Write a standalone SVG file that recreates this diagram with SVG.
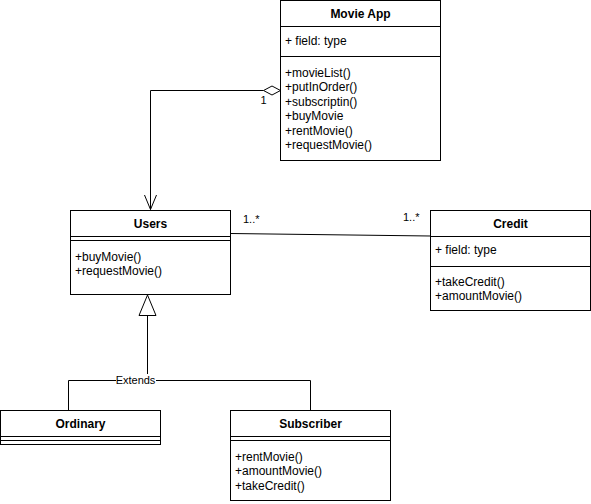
<svg xmlns="http://www.w3.org/2000/svg" width="591" height="504" viewBox="0 0 591 504">
<style>
.box{fill:#fff;stroke:#000;stroke-width:1}
.ln{stroke:#000;stroke-width:1;fill:none}
.t{font-family:"Liberation Sans",Arial,sans-serif;font-size:12px;fill:#000}
.b{font-weight:bold;text-anchor:middle}
.lbl{font-family:"Liberation Sans",Arial,sans-serif;font-size:11px;fill:#000}
</style>
<rect x="0" y="0" width="591" height="504" fill="#fff"/>
<g id="connectors">
  <path class="ln" d="M263.5 90.5 H150.5 V209.5"/>
  <path class="ln" d="M144.5 195 L150.5 209.5 L156.5 195"/>
  <path d="M280.5 90.5 L272 86 L263.5 90.5 L272 95 Z" fill="#fff" stroke="#000"/>
  <text class="lbl" x="260.5" y="104">1</text>
  <path class="ln" d="M230.5 233.5 L430.5 236"/>
  <text class="lbl" x="243" y="223">1..*</text>
  <text class="lbl" x="403" y="221">1..*</text>
  <path class="ln" d="M147.5 315.5 V380.5"/>
  <path class="ln" d="M68.5 410.5 V380.5 H310.5 V410.5"/>
  <path d="M147.5 295 L156 315.5 L139 315.5 Z" fill="#fff" stroke="#000"/>
  <rect x="116" y="374" width="40" height="12" fill="#fff"/>
  <text class="lbl" x="135.5" y="384" text-anchor="middle">Extends</text>
</g>
<g id="movieapp">
  <rect class="box" x="280.5" y="0.5" width="160" height="160"/>
  <path class="ln" d="M280.5 26.5 H440.5 M280.5 56.5 H440.5"/>
  <text class="t b" x="360.5" y="18">Movie App</text>
  <text class="t" x="285" y="45">+ field: type</text>
  <text class="t" x="285" y="77">+movieList()</text>
  <text class="t" x="285" y="91.4">+putInOrder()</text>
  <text class="t" x="285" y="105.8">+subscriptin()</text>
  <text class="t" x="285" y="120.2">+buyMovie</text>
  <text class="t" x="285" y="134.6">+rentMovie()</text>
  <text class="t" x="285" y="149">+requestMovie()</text>
</g>
<g id="users">
  <rect class="box" x="70.5" y="210.5" width="160" height="84"/>
  <path class="ln" d="M70.5 236.5 H230.5 M70.5 240.5 H230.5"/>
  <text class="t b" x="150.5" y="228">Users</text>
  <text class="t" x="75" y="261">+buyMovie()</text>
  <text class="t" x="75" y="275.4">+requestMovie()</text>
</g>
<g id="credit">
  <rect class="box" x="430.5" y="210.5" width="160" height="100"/>
  <path class="ln" d="M430.5 236.5 H590.5 M430.5 266.5 H590.5"/>
  <text class="t b" x="510.5" y="228">Credit</text>
  <text class="t" x="435" y="254">+ field: type</text>
  <text class="t" x="435" y="286">+takeCredit()</text>
  <text class="t" x="435" y="300.4">+amountMovie()</text>
</g>
<g id="ordinary">
  <rect class="box" x="0.5" y="410.5" width="160" height="34"/>
  <path class="ln" d="M0.5 436.5 H160.5 M0.5 440.5 H160.5"/>
  <text class="t b" x="80.5" y="428">Ordinary</text>
</g>
<g id="subscriber">
  <rect class="box" x="230.5" y="410.5" width="160" height="90"/>
  <path class="ln" d="M230.5 436.5 H390.5 M230.5 440.5 H390.5"/>
  <text class="t b" x="310.5" y="428">Subscriber</text>
  <text class="t" x="235" y="461">+rentMovie()</text>
  <text class="t" x="235" y="475.4">+amountMovie()</text>
  <text class="t" x="235" y="489.8">+takeCredit()</text>
</g>
</svg>
